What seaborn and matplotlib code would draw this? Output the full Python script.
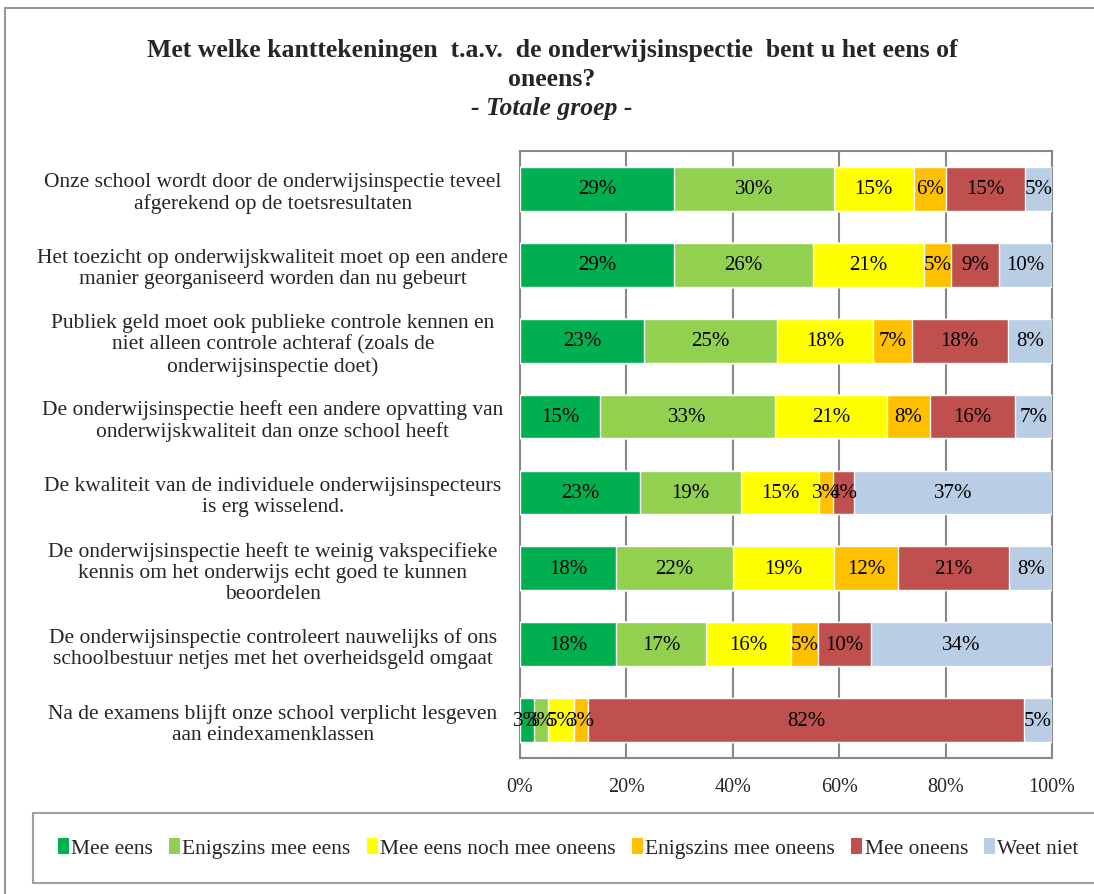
import numpy as np
import pandas as pd
import matplotlib
matplotlib.use("Agg")
import matplotlib.pyplot as plt
import seaborn as sns
from matplotlib.patches import Rectangle, Patch

categories = [
    "Onze school wordt door de onderwijsinspectie teveel\nafgerekend op de toetsresultaten",
    "Het toezicht op onderwijskwaliteit moet op een andere\nmanier georganiseerd worden dan nu gebeurt",
    "Publiek geld moet ook publieke controle kennen en\nniet alleen controle achteraf (zoals de\nonderwijsinspectie doet)",
    "De onderwijsinspectie heeft een andere opvatting van\nonderwijskwaliteit dan onze school heeft",
    "De kwaliteit van de individuele onderwijsinspecteurs\nis erg wisselend.",
    "De onderwijsinspectie heeft te weinig vakspecifieke\nkennis om het onderwijs echt goed te kunnen\nbeoordelen",
    "De onderwijsinspectie controleert nauwelijks of ons\nschoolbestuur netjes met het overheidsgeld omgaat",
    "Na de examens blijft onze school verplicht lesgeven\naan eindexamenklassen",
]

series_names = ["Mee eens", "Enigszins mee eens", "Mee eens noch mee oneens",
                "Enigszins mee oneens", "Mee oneens", "Weet niet"]

mee_eens = [29, 29, 23.3, 15, 22.6, 18, 18, 2.6]
enigszins_mee_eens = [30, 26, 25.1, 33, 19.0, 22, 17, 2.6]
noch = [15, 21, 17.9, 21, 14.6, 19, 16, 5.0]
enigszins_oneens = [6, 5, 7.3, 8, 2.6, 12, 5, 2.6]
mee_oneens = [15, 9, 18.1, 16, 3.9, 21, 10, 82.0]
weet_niet = [5, 10, 8.3, 7, 37.3, 8, 34, 5.2]

colors = ["#00B050", "#92D050", "#FFFF00", "#FFC000", "#C0504D", "#B9CDE5"]

series_values = [mee_eens, enigszins_mee_eens, noch, enigszins_oneens, mee_oneens, weet_niet]

sns.set_theme(style="white")
plt.rcParams['font.family'] = ['Liberation Serif', 'DejaVu Serif']

fig = plt.figure(figsize=(10.94, 8.95), dpi=100)
ax = fig.add_axes([520/1094, 1-759/895, (1052-520)/1094, (759-152)/895])

# cumulative data
vals = np.array(series_values)  # shape (6, 8)
cum = np.cumsum(vals, axis=0)
df = pd.DataFrame({"category": categories})
for i, name in enumerate(series_names):
    df[name] = cum[i]

# draw from the largest cumulative to the smallest so segments stack
for i in reversed(range(len(series_names))):
    sns.barplot(data=df, x=series_names[i], y="category", orient="h",
                color=colors[i], width=0.575, saturation=1, ax=ax, zorder=3)

# labels
for i in range(len(series_names)):
    for j in range(len(categories)):
        v = vals[i, j]
        x = cum[i, j] - v / 2
        ax.text(x, j, f"{v:.0f}%", ha="center", va="center", fontsize=15,
                color="black", zorder=5)

ax.set_xlim(0, 100)
ax.set_ylim(len(categories) - 0.5, -0.5)
ax.set_xticks([0, 20, 40, 60, 80, 100])
ax.set_xticklabels([f"{t}%" for t in [0, 20, 40, 60, 80, 100]], fontsize=14.5)
ax.set_xlabel("")
ax.set_ylabel("")
ax.xaxis.grid(True, color="#888888", linewidth=1.5, zorder=0)
ax.set_axisbelow(True)
for s in ax.spines.values():
    s.set_color("#888888")
    s.set_linewidth(1.5)
ax.tick_params(axis="x", length=0, pad=14)
ax.tick_params(axis="y", length=0, pad=178)
for lab in ax.get_yticklabels():
    lab.set_ha("center")
    lab.set_fontsize(15.5)
    lab.set_linespacing(1.15)

# title
fig.text(552/1094, 1-50/895, "Met welke kanttekeningen  t.a.v.  de onderwijsinspectie  bent u het eens of",
         ha="center", va="center", fontsize=18.5, fontweight="bold")
fig.text(552/1094, 1-79/895, "oneens?", ha="center", va="center", fontsize=18.5, fontweight="bold")
fig.text(552/1094, 1-108/895, "- Totale groep -", ha="center", va="center", fontsize=18.5,
         fontweight="bold", fontstyle="italic")

# outer border
fig.patches.append(Rectangle((5/1094, -0.02), 1.1, 1-9/895+0.02, transform=fig.transFigure,
                             fill=False, edgecolor="#999999", linewidth=1.5, clip_on=False))

# legend
handles = [Patch(facecolor=c, edgecolor="none") for c in colors]
leg = fig.legend(handles, series_names, loc="center left",
                 bbox_to_anchor=(33/1094, 1-849/895), ncol=6, fontsize=15.5,
                 frameon=True, fancybox=False, handlelength=0.5, handleheight=0.8,
                 handletextpad=0.12, columnspacing=0.75, borderpad=1.15, borderaxespad=0)
leg.get_frame().set_edgecolor("#888888")
leg.get_frame().set_linewidth(1.5)

fig.savefig("out.png", dpi=100)
